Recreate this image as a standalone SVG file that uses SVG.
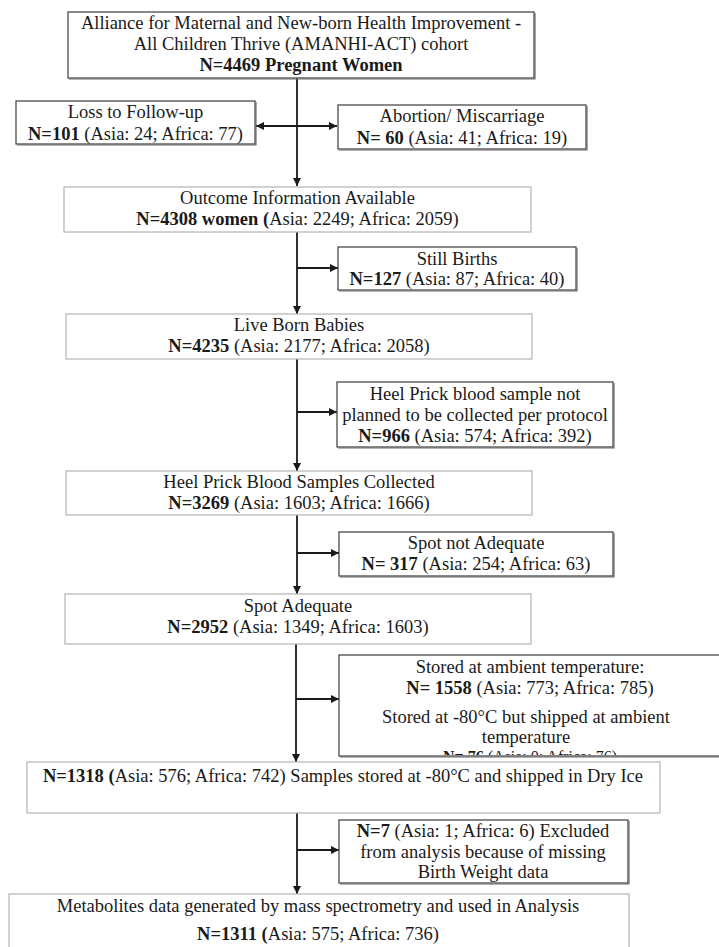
<svg xmlns="http://www.w3.org/2000/svg" width="719" height="947" viewBox="0 0 719 947">
<style>
  text { font-family: "Liberation Serif", "Times New Roman", serif; font-size: 18.5px; fill: #1a1a1a; text-anchor: middle; }
  .b { font-weight: bold; }
  .frag { font-size: 16px; }
  .dark { fill: #ffffff; stroke: #4a4a4a; stroke-width: 1.3; }
  .sh { fill: none; stroke: #6a6a6a; stroke-width: 1.2; }
  .light { fill: #ffffff; stroke: #b4b4b4; stroke-width: 1.2; }
  .conn { stroke: #1a1a1a; stroke-width: 1.8; fill: none; }
</style>
<defs>
  <marker id="ah" viewBox="0 0 10 10" refX="10" refY="5" markerWidth="9" markerHeight="8" markerUnits="userSpaceOnUse" orient="auto-start-reverse">
    <path d="M0,0 L10,5 L0,10 z" fill="#1a1a1a"/>
  </marker>
  <clipPath id="ambclip"><rect x="339" y="655" width="400" height="100"/></clipPath>
</defs>
<rect width="719" height="947" fill="#ffffff"/>

<g id="connectors">
  <line class="conn" x1="297" y1="78" x2="297" y2="186" marker-end="url(#ah)"/>
  <line class="conn" x1="256" y1="126" x2="337" y2="126" marker-start="url(#ah)" marker-end="url(#ah)"/>
  <line class="conn" x1="297" y1="232" x2="297" y2="314" marker-end="url(#ah)"/>
  <line class="conn" x1="297" y1="268" x2="338" y2="268" marker-end="url(#ah)"/>
  <line class="conn" x1="297" y1="359" x2="297" y2="471" marker-end="url(#ah)"/>
  <line class="conn" x1="297" y1="412" x2="337" y2="412" marker-end="url(#ah)"/>
  <line class="conn" x1="297" y1="515" x2="297" y2="594" marker-end="url(#ah)"/>
  <line class="conn" x1="297" y1="553" x2="339" y2="553" marker-end="url(#ah)"/>
  <line class="conn" x1="296" y1="644" x2="296" y2="762" marker-end="url(#ah)"/>
  <line class="conn" x1="296" y1="699" x2="339" y2="699" marker-end="url(#ah)"/>
  <line class="conn" x1="297" y1="813" x2="297" y2="894" marker-end="url(#ah)"/>
  <line class="conn" x1="297" y1="850" x2="339" y2="850" marker-end="url(#ah)"/>
</g>

<g id="cohort">
  <rect class="dark" x="68" y="12" width="466" height="66"/>
  <path class="sh" d="M69,79 H535 V13"/>
  <text x="301" y="29">Alliance for Maternal and New-born Health Improvement -</text>
  <text x="301" y="50">All Children Thrive (AMANHI-ACT) cohort</text>
  <text x="301" y="71" class="b">N=4469 Pregnant Women</text>
</g>

<g id="loss">
  <rect class="dark" x="16" y="101" width="239" height="43"/>
  <path class="sh" d="M17,145 H256 V102"/>
  <text x="135.5" y="118">Loss to Follow-up</text>
  <text x="135.5" y="140"><tspan class="b">N=101</tspan> (Asia: 24; Africa: 77)</text>
</g>

<g id="abortion">
  <rect class="dark" x="338" y="105" width="248" height="44"/>
  <path class="sh" d="M339,150 H587 V106"/>
  <text x="462" y="122">Abortion/ Miscarriage</text>
  <text x="462" y="144"><tspan class="b">N= 60</tspan> (Asia: 41; Africa: 19)</text>
</g>

<g id="outcome">
  <rect class="light" x="64" y="187" width="467" height="45"/>
  <text x="297.5" y="204">Outcome Information Available</text>
  <text x="297.5" y="225"><tspan class="b">N=4308 women (</tspan>Asia: 2249; Africa: 2059)</text>
</g>

<g id="stillbirths">
  <rect class="dark" x="338" y="247" width="238" height="43"/>
  <path class="sh" d="M339,291 H577 V248"/>
  <text x="457" y="265">Still Births</text>
  <text x="457" y="285"><tspan class="b">N=127</tspan> (Asia: 87; Africa: 40)</text>
</g>

<g id="liveborn">
  <rect class="light" x="66" y="314" width="466" height="45"/>
  <text x="299" y="331">Live Born Babies</text>
  <text x="299" y="352"><tspan class="b">N=4235</tspan> (Asia: 2177; Africa: 2058)</text>
</g>

<g id="notplanned">
  <rect class="dark" x="337" y="382" width="276" height="65"/>
  <path class="sh" d="M338,448 H614 V383"/>
  <text x="475" y="400">Heel Prick blood sample not</text>
  <text x="475" y="421">planned to be collected per protocol</text>
  <text x="475" y="442"><tspan class="b">N=966</tspan> (Asia: 574; Africa: 392)</text>
</g>

<g id="collected">
  <rect class="light" x="66" y="471" width="466" height="44"/>
  <text x="299" y="488">Heel Prick Blood Samples Collected</text>
  <text x="299" y="509"><tspan class="b">N=3269</tspan> (Asia: 1603; Africa: 1666)</text>
</g>

<g id="spotnot">
  <rect class="dark" x="339" y="532" width="274" height="44"/>
  <path class="sh" d="M340,577 H614 V533"/>
  <text x="476" y="549">Spot not Adequate</text>
  <text x="476" y="570"><tspan class="b">N= 317</tspan> (Asia: 254; Africa: 63)</text>
</g>

<g id="spotadequate">
  <rect class="light" x="65" y="594" width="466" height="50"/>
  <text x="298" y="612">Spot Adequate</text>
  <text x="298" y="633"><tspan class="b">N=2952</tspan> (Asia: 1349; Africa: 1603)</text>
</g>

<g id="ambient">
  <rect class="dark" x="339" y="655" width="390" height="101"/>
  <path class="sh" d="M340,757 H730"/>
  <text x="530" y="673">Stored at ambient temperature:</text>
  <text x="530" y="694"><tspan class="b">N= 1558</tspan> (Asia: 773; Africa: 785)</text>
  <text x="526" y="723">Stored at -80°C but shipped at ambient</text>
  <text x="526" y="743">temperature</text>
  <text x="530" y="761.5" class="frag" clip-path="url(#ambclip)"><tspan class="b">N= 76</tspan> (Asia: 0; Africa: 76)</text>
</g>

<g id="dryice">
  <rect class="light" x="27" y="762" width="633" height="51"/>
  <text x="343" y="782"><tspan class="b">N=1318 (</tspan>Asia: 576; Africa: 742) Samples stored at -80°C and shipped in Dry Ice</text>
</g>

<g id="excluded">
  <rect class="dark" x="339" y="820" width="289" height="63"/>
  <path class="sh" d="M340,884 H629 V821"/>
  <text x="483" y="837"><tspan class="b">N=7</tspan> (Asia: 1; Africa: 6) Excluded</text>
  <text x="483" y="858">from analysis because of missing</text>
  <text x="483" y="878">Birth Weight data</text>
</g>

<g id="metabolites">
  <rect class="light" x="9" y="894" width="620" height="70"/>
  <text x="318" y="912">Metabolites data generated by mass spectrometry and used in Analysis</text>
  <text x="318" y="940"><tspan class="b">N=1311 (</tspan>Asia: 575; Africa: 736)</text>
</g>
</svg>
